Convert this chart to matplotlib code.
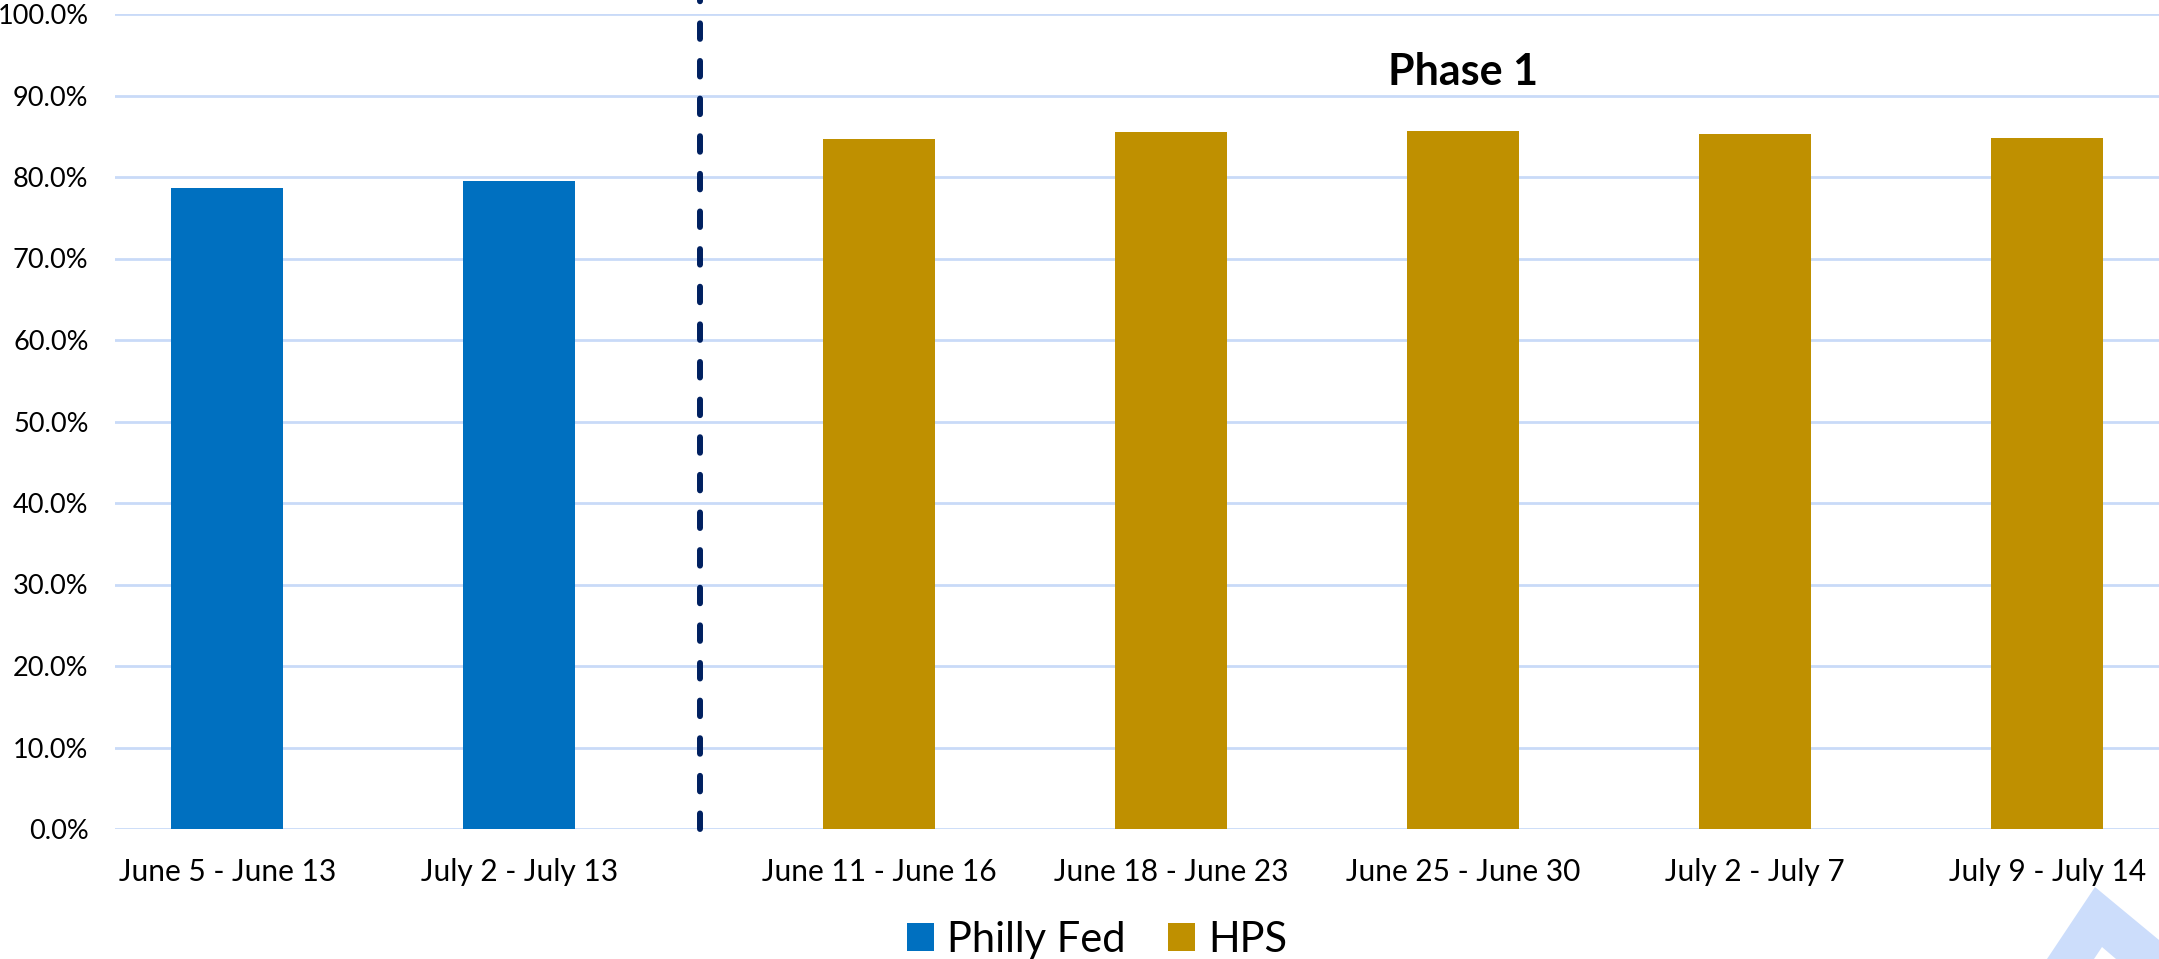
import numpy as np
import matplotlib.pyplot as plt
from matplotlib.patches import Patch, Polygon

# --- data ---
categories = ["June 5 - June 13", "July 2 - July 13",
              "June 11 - June 16", "June 18 - June 23", "June 25 - June 30",
              "July 2 - July 7", "July 9 - July 14"]
sources = ["Philly Fed", "Philly Fed", "HPS", "HPS", "HPS", "HPS", "HPS"]
values = [78.6, 79.5, 84.7, 85.5, 85.6, 85.3, 84.8]

colors = {"Philly Fed": "#0070C0", "HPS": "#BF9000"}
grid_color = "#C9DAF8"

plt.rcParams["font.family"] = ["Lato", "DejaVu Sans"]

W, H = 2159, 959
fig = plt.figure(figsize=(W / 100, H / 100), dpi=100)
ax = fig.add_axes([115 / W, 1 - 829 / H, 1 - 115 / W, (829 - 14) / H])

# the HPS group sits a little further right, past the divider
idx = np.arange(len(categories))
xpos = idx + np.where(idx >= 2, 0.233, 0.0)

bar_colors = [colors[s] for s in sources]
ax.bar(xpos, np.array(values) / 100, width=0.384, color=bar_colors, zorder=3)

ax.set_xlim(-0.384, 6.616)
ax.set_ylim(0, 1.0)
ax.set_yticks(np.arange(0, 1.01, 0.1))
ax.set_yticklabels([f"{v:.1f}%" for v in np.arange(0, 101, 10)], fontsize=19.5)
ax.set_xticks(xpos)
ax.set_xticklabels(categories, fontsize=21.5)
ax.tick_params(axis="both", length=0)
ax.tick_params(axis="y", pad=19)
ax.tick_params(axis="x", pad=21)

ax.grid(axis="y", color=grid_color, linewidth=2, zorder=0)
ax.set_axisbelow(True)
for s in ax.spines.values():
    s.set_visible(False)

# divider between the two surveys
ax.plot([1.62, 1.62], [0, 1.017], color="#002060", linewidth=4.3,
        dashes=(2.6, 3.7), solid_capstyle="round", dash_capstyle="round",
        clip_on=False, zorder=4)

ax.text(xpos[4], 0.929, "Phase 1", ha="center", va="center",
        fontsize=31, fontweight="bold")

handles = [Patch(facecolor=colors["Philly Fed"], label="Philly Fed"),
           Patch(facecolor=colors["HPS"], label="HPS")]
fig.legend(handles=handles, loc="center", bbox_to_anchor=(1097 / W, 0.02),
           ncol=2, frameon=False, fontsize=30, handlelength=0.66,
           handleheight=0.66, handletextpad=0.32, columnspacing=1.0)

# logo corner in the bottom right
pts = [(2047, 959), (2095, 887), (2159, 940), (2159, 959),
       (2116, 959), (2102, 947), (2094, 959)]
fig.patches.append(Polygon([(x / W, 1 - y / H) for x, y in pts],
                           closed=True, transform=fig.transFigure,
                           facecolor="#CCDDFB", edgecolor="none"))

fig.savefig("out.png", dpi=100)
